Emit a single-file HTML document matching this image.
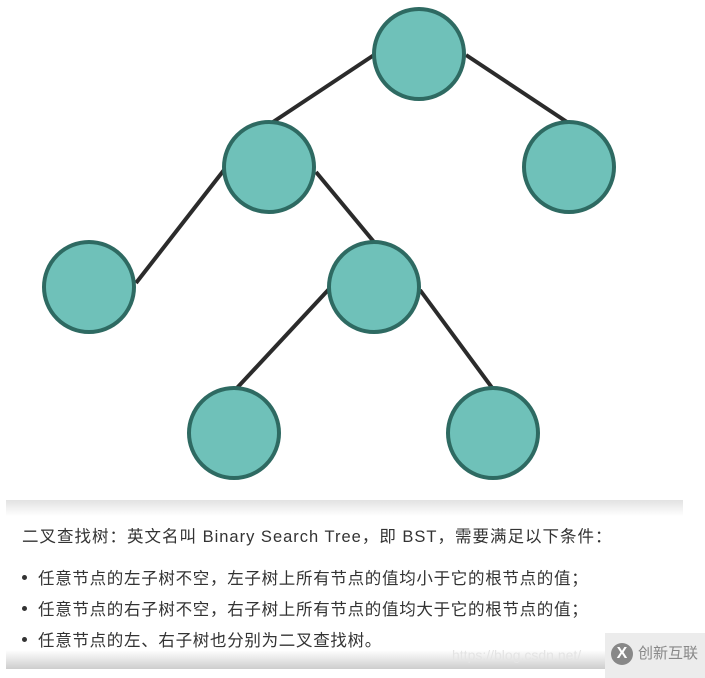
<!DOCTYPE html>
<html><head><meta charset="utf-8"><style>
html,body{margin:0;padding:0;background:#fff;}
body{width:705px;height:678px;position:relative;overflow:hidden;font-family:"Liberation Sans","Noto Sans CJK SC",sans-serif;}
.top{position:absolute;left:6px;top:500px;width:677px;height:16px;background:linear-gradient(#e2e2e2,#fff);}
.bot{position:absolute;left:6px;top:650px;width:677px;height:19px;background:linear-gradient(#fff,#cdcdcd);}
.t{position:absolute;left:22px;font-size:16.5px;color:#333;white-space:nowrap;letter-spacing:0.7px;}
.b{position:absolute;left:22px;width:5px;height:5px;border-radius:50%;background:#333;}
.logo{position:absolute;left:605px;top:633px;width:100px;height:45px;background:#ececec;}
</style></head><body>
<svg width="705" height="500" style="position:absolute;left:0;top:0">
<g stroke="#2b2b2b" stroke-width="4">
<line x1="374" y1="55" x2="270" y2="124"/>
<line x1="466" y1="55" x2="570" y2="124"/>
<line x1="224" y1="170" x2="136" y2="283"/>
<line x1="316" y1="172" x2="374" y2="242"/>
<line x1="330" y1="288" x2="236" y2="389"/>
<line x1="420" y1="290" x2="493" y2="389"/>
</g>
<g fill="#6fc1b9" stroke="#2e6a62" stroke-width="4">
<circle cx="419" cy="54" r="45"/>
<circle cx="269" cy="167" r="45"/>
<circle cx="569" cy="167" r="45"/>
<circle cx="89" cy="287" r="45"/>
<circle cx="374" cy="287" r="45"/>
<circle cx="234" cy="433" r="45"/>
<circle cx="493" cy="433" r="45"/>
</g>
</svg>
<div class="top"></div>
<div class="bot"></div>
<div class="t" style="top:523px;letter-spacing:1px">二叉查找树：英文名叫 Binary Search Tree，即 BST，需要满足以下条件：</div>
<div class="b" style="top:575px"></div>
<div class="t" style="left:38px;top:565px">任意节点的左子树不空，左子树上所有节点的值均小于它的根节点的值；</div>
<div class="b" style="top:606px"></div>
<div class="t" style="left:38px;top:596px">任意节点的右子树不空，右子树上所有节点的值均大于它的根节点的值；</div>
<div class="b" style="top:637px"></div>
<div class="t" style="left:38px;top:627px">任意节点的左、右子树也分别为二叉查找树。</div>
<div class="t" style="left:452px;top:647px;font-size:14px;color:#e4e4e4;letter-spacing:0">https://blog.csdn.net/</div>
<div class="logo">
<div style="position:absolute;left:6px;top:10px;width:22px;height:22px;border-radius:50%;background:#888;color:#fff;font-size:16px;line-height:22px;text-align:center;font-weight:bold">X</div>
<div style="position:absolute;left:33px;top:9px;font-size:15px;color:#888;font-family:'Noto Sans CJK SC',sans-serif">创新互联</div>
</div>
</body></html>
